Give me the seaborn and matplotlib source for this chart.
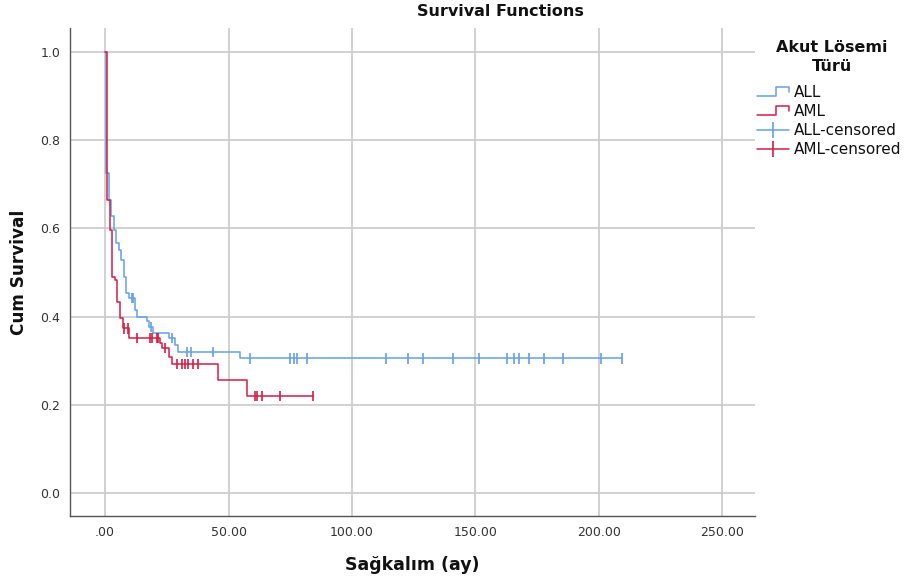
import numpy as np
import pandas as pd
import matplotlib
matplotlib.use("Agg")
import matplotlib.pyplot as plt
from matplotlib.lines import Line2D
from matplotlib.legend_handler import HandlerBase
from matplotlib.ticker import FuncFormatter
import seaborn as sns

# ---------------- data ----------------
groups = ["ALL", "AML"]
group_colors = ["#62A0E8", "#D61C45"]

# Kaplan-Meier step values: time of each step and survival level after it
all_time = [0, 0.5, 1.6, 2.3, 3.6, 4.4, 5.6, 6.5, 7.7, 8.6, 9.5, 12.1, 12.8,
            17.0, 17.8, 19.6, 25.8, 28.3, 29.7, 54.7, 209.5]
all_surv = [1.0, 0.726, 0.664, 0.627, 0.596, 0.567, 0.550, 0.528, 0.490, 0.453,
            0.442, 0.415, 0.400, 0.389, 0.376, 0.362, 0.351, 0.336, 0.320, 0.305,
            0.305]
all_censored = [10.8, 11.4, 18.6, 27.0, 33.0, 34.7, 43.8, 58.7, 74.9, 76.6,
                77.6, 81.9, 113.6, 122.8, 128.6, 140.8, 151.5, 162.6, 165.6,
                167.6, 171.7, 177.7, 185.6, 200.7, 209.5]

aml_time = [0, 0.7, 2.0, 2.7, 4.0, 4.7, 6.1, 7.4, 9.8, 22.3, 23.0, 25.8, 27.0,
            45.9, 57.6, 84.2]
aml_surv = [1.0, 0.664, 0.596, 0.490, 0.483, 0.434, 0.396, 0.373, 0.351, 0.339,
            0.328, 0.309, 0.292, 0.256, 0.220, 0.220]
aml_censored = [7.8, 9.2, 12.8, 18.2, 18.9, 20.9, 21.6, 24.3, 29.0, 31.0, 32.4,
                33.7, 35.7, 37.8, 60.7, 61.5, 63.7, 70.9, 84.2]

x_ticks = [0, 50, 100, 150, 200, 250]
y_ticks = [0.0, 0.2, 0.4, 0.6, 0.8, 1.0]

title_text = "Survival Functions"
x_label = "Sağkalım (ay)"
y_label = "Cum Survival"
legend_title = "Akut Lösemi\nTürü"
legend_labels = ["ALL", "AML", "ALL-censored", "AML-censored"]

# ---------------- build tables ----------------
steps = {"ALL": (all_time, all_surv), "AML": (aml_time, aml_surv)}
cens = {"ALL": all_censored, "AML": aml_censored}

step_df = pd.concat(
    [pd.DataFrame({"t": steps[g][0], "S": steps[g][1], "group": g}) for g in groups],
    ignore_index=True)


def surv_at(g, t):
    tt, ss = steps[g]
    i = np.searchsorted(tt, t, side="right") - 1
    return ss[max(i, 0)]


cens_df = pd.concat(
    [pd.DataFrame({"t": cens[g], "S": [surv_at(g, c) for c in cens[g]], "group": g})
     for g in groups], ignore_index=True)

palette = dict(zip(groups, group_colors))

# ---------------- style ----------------
sns.set_theme(style="whitegrid")
plt.rcParams["font.family"] = ["DejaVu Sans"]

W, H = 907, 583
fig = plt.figure(figsize=(W / 100, H / 100), dpi=100)
fig.patch.set_facecolor("white")
ax = fig.add_axes([70 / W, 1 - 516 / H, 685 / W, 488 / H])
ax.set_facecolor("white")

sns.lineplot(data=step_df, x="t", y="S", hue="group", hue_order=groups,
             palette=palette, drawstyle="steps-post", estimator=None, sort=False,
             legend=False, linewidth=1.1, ax=ax, zorder=3)
sns.scatterplot(data=cens_df, x="t", y="S", hue="group", hue_order=groups,
                palette=palette, marker="|", s=55, linewidth=1.2, legend=False,
                ax=ax, zorder=4)

ax.set_xlim(-14.2, 263.2)
ax.set_ylim(-0.052, 1.054)
ax.set_xticks(x_ticks)
ax.set_yticks(y_ticks)
ax.xaxis.set_major_formatter(FuncFormatter(lambda v, p: ".00" if abs(v) < 1e-9 else f"{v:.2f}"))
ax.yaxis.set_major_formatter(FuncFormatter(lambda v, p: f"{v:.1f}"))
ax.tick_params(axis="both", length=0, pad=7, labelsize=9, labelcolor="#333333")

ax.grid(True, color="#cacaca", linewidth=1.2)
ax.set_axisbelow(True)
for side in ["top", "right"]:
    ax.spines[side].set_visible(False)
for side in ["left", "bottom"]:
    ax.spines[side].set_visible(True)
    ax.spines[side].set_color("#555555")
    ax.spines[side].set_linewidth(1.0)

ax.set_xlabel(x_label, fontsize=12.5, fontweight="bold", color="#111111")
ax.set_ylabel(y_label, fontsize=12.2, fontweight="bold", color="#111111")
ax.xaxis.set_label_coords(0.5, -0.082)
ax.yaxis.set_label_coords(-0.062, 0.5)

fig.text(500 / W, 1 - 12 / H, title_text, ha="center", va="center",
         fontsize=11.5, fontweight="bold", color="#111111")

# legend title as its own text block (centered, two lines)
fig.text(832 / W, 1 - 57 / H, legend_title, ha="center", va="center",
         multialignment="center", fontsize=11.5, fontweight="bold",
         color="#111111", linespacing=1.3)


# ---------------- legend ----------------
class HandlerStep(HandlerBase):
    def create_artists(self, legend, orig_handle, xdescent, ydescent, width,
                       height, fontsize, trans):
        x0, y0 = -xdescent, -ydescent
        xm = x0 + 0.58 * width
        xs = [x0, xm, xm, x0 + width, x0 + width]
        ys = [y0 + 0.1 * height, y0 + 0.1 * height, y0 + 0.95 * height,
              y0 + 0.95 * height, y0 + 0.45 * height]
        ln = Line2D(xs, ys, color=orig_handle.get_color(),
                    linewidth=orig_handle.get_linewidth())
        ln.set_transform(trans)
        return [ln]


h_all = Line2D([], [], color=palette["ALL"], linewidth=1.1)
h_aml = Line2D([], [], color=palette["AML"], linewidth=1.1)
h_allc = Line2D([], [], color=palette["ALL"], linewidth=1.1, marker="|",
                markersize=11, markeredgewidth=1.2)
h_amlc = Line2D([], [], color=palette["AML"], linewidth=1.1, marker="|",
                markersize=11, markeredgewidth=1.2)

leg = fig.legend([h_all, h_aml, h_allc, h_amlc], legend_labels,
                 loc="upper left", bbox_to_anchor=(757 / W, 1 - 85 / H),
                 frameon=False, fontsize=11, handlelength=2.1,
                 handletextpad=0.3, labelspacing=0.26, borderaxespad=0,
                 borderpad=0, numpoints=1,
                 handler_map={h_all: HandlerStep(), h_aml: HandlerStep()})
for t in leg.get_texts():
    t.set_color("#111111")

fig.savefig("out.png", dpi=100, facecolor="white")
